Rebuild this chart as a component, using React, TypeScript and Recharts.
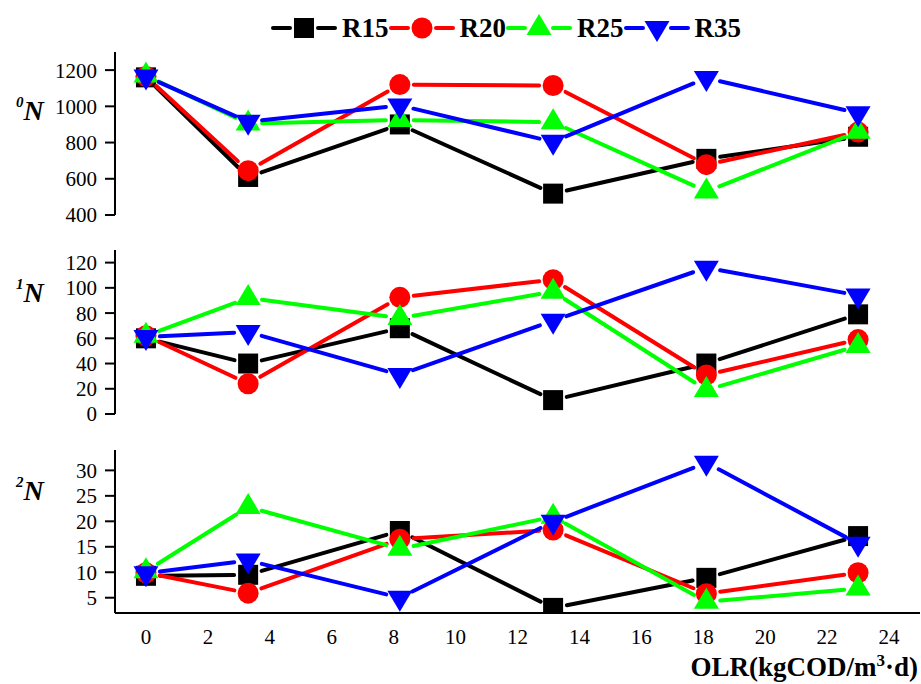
import React from 'react';
import { LineChart, Line, XAxis, YAxis, Legend } from 'recharts';

// ---- data ----
const olr = [0, 3.3, 8.2, 13.15, 18.1, 23.0];
const seriesNames = ['R15', 'R20', 'R25', 'R35'];
const seriesColors = ['#000000', '#ff0000', '#00ff00', '#0000ff'];
const seriesShapes = ['square', 'circle', 'triangle', 'triangleDown'];

const n0R15 = [1160, 610, 900, 518, 710, 832];
const n0R20 = [1165, 645, 1120, 1115, 678, 858];
const n0R25 = [1170, 905, 925, 912, 530, 860];
const n0R35 = [1165, 915, 1005, 804, 1156, 962];

const n1R15 = [60, 40, 68, 11, 40, 79];
const n1R20 = [62, 24, 92.5, 106.5, 31, 59];
const n1R25 = [62, 92, 76, 97, 19, 54];
const n1R35 = [61, 65, 31, 74, 116, 94];

const n2R15 = [9.3, 9.5, 18.1, 3, 8.9, 17.1];
const n2R20 = [9.9, 5.9, 16.5, 18.3, 5.8, 9.9];
const n2R25 = [10.2, 22.8, 14.6, 20.9, 4.2, 6.8];
const n2R35 = [9.8, 12.3, 5, 19.9, 31.5, 15.6];

const xTicks = [0, 2, 4, 6, 8, 10, 12, 14, 16, 18, 20, 22, 24];
const n0Ticks = [400, 600, 800, 1000, 1200];
const n1Ticks = [0, 20, 40, 60, 80, 100, 120];
const n2Ticks = [5, 10, 15, 20, 25, 30];

const buildRows = (a: number[], b: number[], c: number[], d: number[]) =>
  olr.map((x, i) => ({ x, R15: a[i], R20: b[i], R25: c[i], R35: d[i] }));

const n0Rows = buildRows(n0R15, n0R20, n0R25, n0R35);
const n1Rows = buildRows(n1R15, n1R20, n1R25, n1R35);
const n2Rows = buildRows(n2R15, n2R20, n2R25, n2R35);

const FONT = "'Liberation Serif', 'DejaVu Serif', serif";
const GAP = 14;

function Marker({ cx, cy, shape, color }: any) {
  if (cx == null || cy == null) return null;
  if (shape === 'square') return <rect x={cx - 10} y={cy - 10} width={20} height={20} fill={color} />;
  if (shape === 'circle') return <circle cx={cx} cy={cy} r={10.5} fill={color} />;
  const h = 21;
  const w = 25;
  if (shape === 'triangle')
    return <path d={`M${cx},${cy - (h * 2) / 3} L${cx + w / 2},${cy + h / 3} L${cx - w / 2},${cy + h / 3} Z`} fill={color} />;
  return <path d={`M${cx},${cy + (h * 2) / 3} L${cx + w / 2},${cy - h / 3} L${cx - w / 2},${cy - h / 3} Z`} fill={color} />;
}

// marker plus the gapped segment to the next point (Origin-style gap around markers)
function DotWithSegment({ p, shape, color }: any) {
  const pts = p.points;
  let seg = null;
  if (pts && pts[p.index + 1]) {
    const a = pts[p.index];
    const b = pts[p.index + 1];
    const dx = b.x - a.x;
    const dy = b.y - a.y;
    const len = Math.sqrt(dx * dx + dy * dy);
    if (len > 2 * GAP) {
      const ux = dx / len;
      const uy = dy / len;
      seg = (
        <line
          x1={a.x + ux * GAP}
          y1={a.y + uy * GAP}
          x2={b.x - ux * GAP}
          y2={b.y - uy * GAP}
          stroke={color}
          strokeWidth={4}
          strokeLinecap="round"
        />
      );
    }
  }
  return (
    <g>
      {seg}
      <Marker cx={p.cx} cy={p.cy} shape={shape} color={color} />
    </g>
  );
}

function LegendContent() {
  return (
    <div style={{ display: 'flex', alignItems: 'center', fontFamily: FONT }}>
      {seriesNames.map((name, i) => (
        <div key={name} style={{ display: 'flex', alignItems: 'center' }}>
          <svg width={66} height={34} style={{ display: 'block' }}>
            <line x1={2} y1={17} x2={19} y2={17} stroke={seriesColors[i]} strokeWidth={4} strokeLinecap="round" />
            <line x1={47} y1={17} x2={64} y2={17} stroke={seriesColors[i]} strokeWidth={4} strokeLinecap="round" />
            <Marker cx={33} cy={17} shape={seriesShapes[i]} color={seriesColors[i]} />
          </svg>
          <span style={{ fontFamily: FONT, fontSize: 27, fontWeight: 'bold', color: '#000', marginLeft: 5, lineHeight: '34px' }}>{name}</span>
        </div>
      ))}
    </div>
  );
}

function YTitle({ digit, baseline }: any) {
  return (
    <text x={16} y={baseline} style={{ fontFamily: FONT }} fontWeight="bold" fontStyle="italic" fill="#000">
      <tspan fontSize={15} dy={-13}>{digit}</tspan>
      <tspan fontSize={28} dy={13}>N</tspan>
    </text>
  );
}

function XTitle() {
  return (
    <text x={918} y={676} textAnchor="end" style={{ fontFamily: FONT }} fontWeight="bold" fontSize={27} fill="#000">
      OLR(kgCOD/m<tspan fontSize={17} dy={-10}>3</tspan>
      <tspan dy={10}>·d)</tspan>
    </text>
  );
}

const tickStyle = { fill: '#000', fontSize: 21, fontFamily: FONT };

function Panel({ rows, domain, ticks, top, bottom, showX, digit, labelBaseline, legend }: any) {
  const xH = showX ? 34 : 0;
  return (
    <div style={{ position: 'absolute', left: 0, top: 0 }}>
      <LineChart
        width={921}
        height={684}
        data={rows}
        style={{ fontFamily: FONT }}
        margin={{ top, right: 1, left: 0, bottom: 684 - bottom - xH }}
      >
        <XAxis
          dataKey="x"
          type="number"
          domain={[-1, 25]}
          ticks={xTicks}
          interval={0}
          allowDataOverflow
          axisLine={{ stroke: '#000', strokeWidth: 2 }}
          tickLine={false}
          tick={showX ? tickStyle : false}
          height={xH}
          tickSize={8}
          tickMargin={8}
          label={showX ? <XTitle /> : undefined}
        />
        <YAxis
          type="number"
          domain={domain}
          ticks={ticks}
          interval={0}
          allowDataOverflow
          width={115}
          axisLine={{ stroke: '#000', strokeWidth: 2 }}
          tickLine={{ stroke: '#000', strokeWidth: 2 }}
          tick={tickStyle}
          tickSize={10}
          tickMargin={8}
          label={<YTitle digit={digit} baseline={labelBaseline} />}
        />
        {legend && (
          <Legend
            verticalAlign="middle"
            align="center"
            layout="horizontal"
            wrapperStyle={{ top: 11, left: 271, width: 520 }}
            content={() => <LegendContent />}
          />
        )}
        {seriesNames.map((name, i) => (
          <Line
            key={name}
            dataKey={name}
            stroke="none"
            strokeWidth={4}
            isAnimationActive={false}
            dot={(p: any) => (
              <DotWithSegment key={`${name}-${p.index}`} p={p} shape={seriesShapes[i]} color={seriesColors[i]} />
            )}
            activeDot={false}
            legendType="none"
          />
        ))}
      </LineChart>
    </div>
  );
}

export default function App() {
  return (
    <div style={{ position: 'absolute', left: 0, top: 0, width: 921, height: 684, background: '#fff', fontFamily: FONT }}>
      <Panel rows={n0Rows} domain={[400, 1300]} ticks={n0Ticks} top={52} bottom={215} showX={false} digit="0" labelBaseline={120} legend />
      <Panel rows={n1Rows} domain={[0, 130]} ticks={n1Ticks} top={250} bottom={414} showX={false} digit="1" labelBaseline={302} legend={false} />
      <Panel rows={n2Rows} domain={[2, 34]} ticks={n2Ticks} top={450} bottom={613} showX digit="2" labelBaseline={500} legend={false} />
    </div>
  );
}
